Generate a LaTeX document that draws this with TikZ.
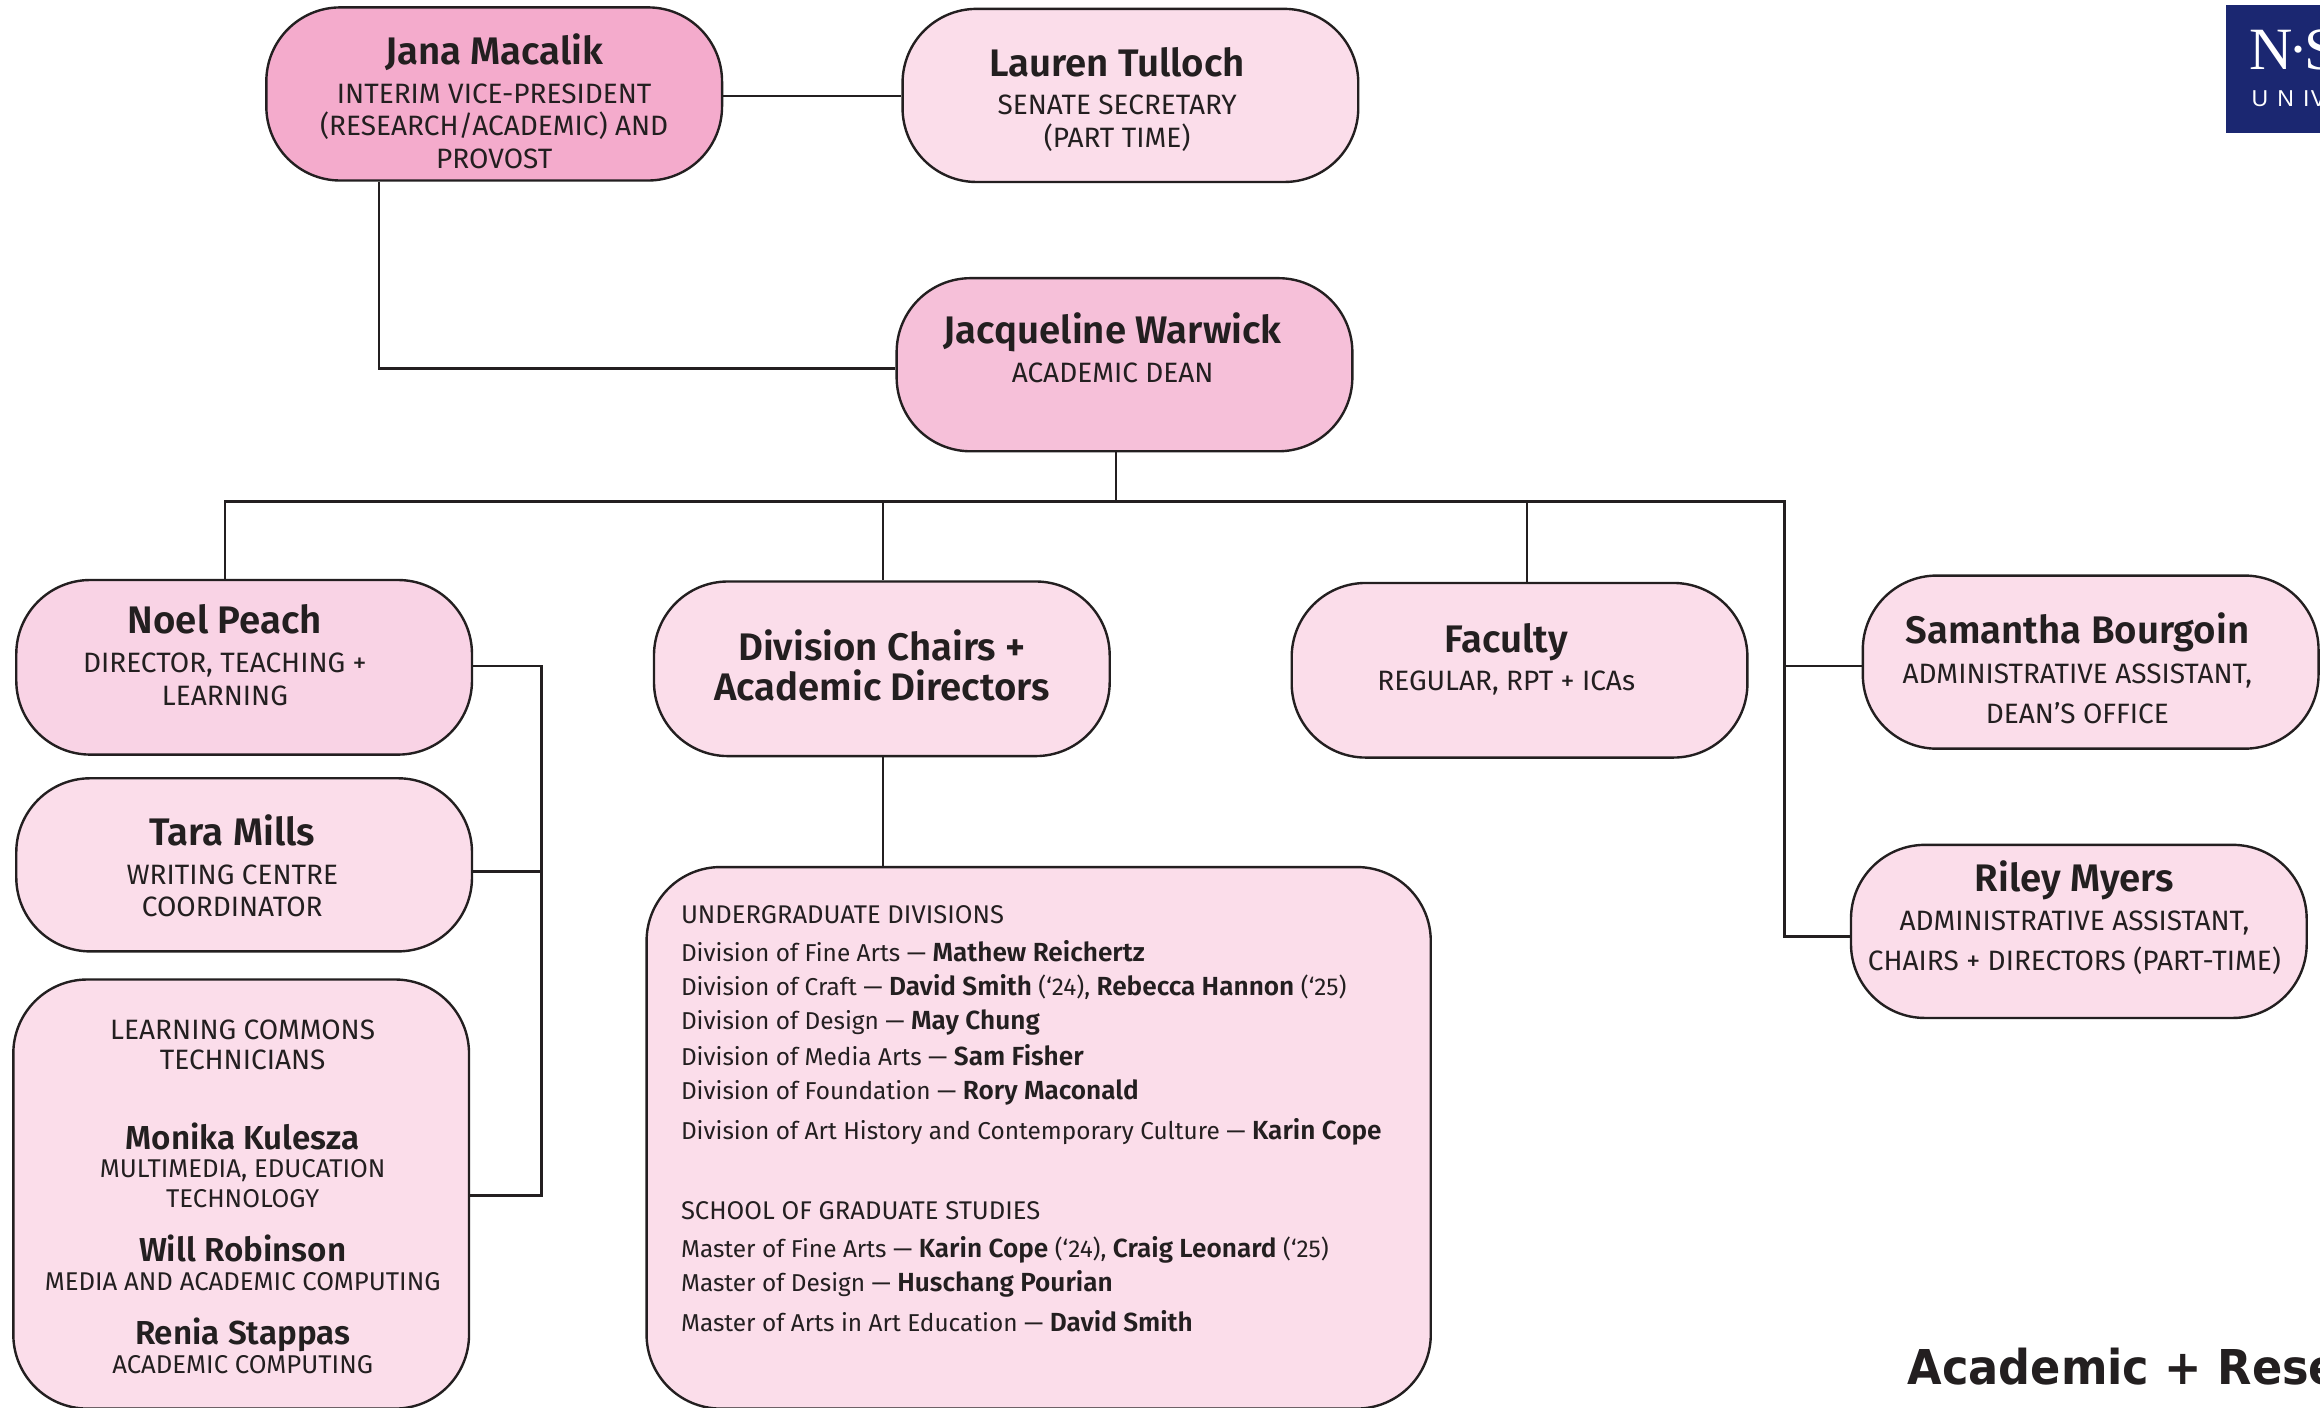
\documentclass[tikz,border=0pt]{standalone}
\usepackage{fontspec}
\setmainfont{Fira Sans}[BoldFont={Fira Sans SemiBold}]
\newfontfamily\titlefont[FakeStretch=0.93]{DejaVu Sans}
\newfontfamily\logoserif{Liberation Serif}
\newfontfamily\logosans[LetterSpace=40]{Liberation Sans}
\definecolor{ink}{HTML}{231F20}
\definecolor{pinkA}{HTML}{F4ABCC}
\definecolor{pinkB}{HTML}{F6C0D9}
\definecolor{pinkC}{HTML}{F9D3E5}
\definecolor{pinkD}{HTML}{FBDDEA}
\definecolor{navy}{HTML}{1B2771}
\newcommand{\bn}[1]{{\fontsize{13.1}{15}\selectfont\bfseries #1}}
\tikzset{
  orgbox/.style={draw=ink,line width=1.2pt,rounded corners=37pt,inner sep=0pt},
  wire/.style={draw=ink,line width=1.1pt},
  nm/.style={anchor=base,inner sep=0pt,yshift=-0.5pt,text=ink,font=\fontsize{19.2}{22}\selectfont\bfseries},
  nms/.style={anchor=base,inner sep=0pt,yshift=-0.5pt,text=ink,font=\fontsize{16.6}{19}\selectfont\bfseries},
  rl/.style={anchor=base,inner sep=0pt,yshift=-0.5pt,text=ink,font=\fontsize{14}{16}\selectfont},
  rls/.style={anchor=base,inner sep=0pt,text=ink,font=\fontsize{12.85}{15}\selectfont},
  ls/.style={anchor=base west,inner sep=0pt,text=ink,font=\fontsize{12.2}{15}\selectfont},
  lh/.style={anchor=base west,inner sep=0pt,text=ink,font=\fontsize{12.8}{15}\selectfont},
}
\newcommand{\orgbx}[6]{%
  \pgfmathsetmacro{\bw}{(#4-#2)*0.7398}%
  \pgfmathsetmacro{\bh}{(#5-#3)*0.7398}%
  \node[orgbox,fill=#6,minimum width=\bw pt,minimum height=\bh pt] (#1) at ({(#2+#4)/2},{(#3+#5)/2}) {};%
}
\begin{document}
\begin{tikzpicture}[x=0.7398pt,y=-0.7398pt]
\useasboundingbox (0,0) rectangle (1568,951.6);
\clip (0,0) rectangle (1568,951.6);
\fill[white] (0,0) rectangle (1568,951.6);

\orgbx{jana}{180}{5}{488}{122}{pinkA}
\orgbx{lauren}{610}{6}{918}{123}{pinkD}
\orgbx{jacq}{606}{188}{914}{305}{pinkB}
\orgbx{noel}{11}{392}{319}{510}{pinkC}
\orgbx{tara}{11}{526}{319}{643}{pinkD}
\orgbx{lc}{9}{662}{317}{952}{pinkD}
\orgbx{div}{442}{393}{750}{511}{pinkD}
\orgbx{fac}{873}{394}{1181}{512}{pinkD}
\orgbx{sam}{1259}{389}{1567}{506}{pinkD}
\orgbx{riley}{1251}{571}{1559}{688}{pinkD}
\orgbx{ug}{437}{586}{967}{952}{pinkD}

% junctions
\coordinate (jt) at (754,339);
\coordinate (bl) at (152,339);
\coordinate (bd) at (597,339);
\coordinate (bf) at (1032,339);
\coordinate (br) at (1206,339);
\coordinate (js) at (1206,450);
\coordinate (jr) at (1206,633);
\coordinate (jj) at (256,249);
\coordinate (lt) at (366,450);
\coordinate (lm) at (366,589);
\coordinate (lb) at (366,808);
\coordinate (jl) at (488,65);

\draw[wire] (jl) -- (jl -| lauren.west);
\draw[wire] (jj |- jana.south) -- (jj) -- (jj -| jacq.west);
\draw[wire] (jt |- jacq.south) -- (jt);
\draw[wire] (bl |- noel.north) -- (bl) -- (br) -- (jr) -- (jr -| riley.west);
\draw[wire] (bd) -- (bd |- div.north);
\draw[wire] (bf) -- (bf |- fac.north);
\draw[wire] (js) -- (js -| sam.west);
\draw[wire] (lt -| noel.east) -- (lt) -- (lb) -- (lb -| lc.east);
\draw[wire] (lm -| tara.east) -- (lm);
\draw[wire] (bd |- div.south) -- (bd |- ug.north);

% Jana
\node[nm] (t1) at (334,43) {Jana Macalik};
\node[rl] (t2) at (334,69) {INTERIM VICE-PRESIDENT};
\node[rl] (t3) at (334,91) {(RESEARCH/ACADEMIC) AND};
\node[rl] (t4) at (334,113) {PROVOST};
% Lauren
\node[nm] (t5) at (755,51) {Lauren Tulloch};
\node[rl] (t6) at (755,77) {SENATE SECRETARY};
\node[rl] (t7) at (755,99) {(PART TIME)};
% Jacqueline
\node[nm] (t8) at (752,231.5) {Jacqueline Warwick};
\node[rl] (t9) at (752,258) {ACADEMIC DEAN};
% Noel
\node[nm] (t10) at (152,427.5) {Noel Peach};
\node[rl] (t11) at (152,454) {DIRECTOR, TEACHING +};
\node[rl] (t12) at (152,476) {LEARNING};
% Tara
\node[nm] (t13) at (157,571) {Tara Mills};
\node[rl] (t14) at (157,597) {WRITING CENTRE};
\node[rl] (t15) at (157,619) {COORDINATOR};
% Learning commons
\node[rl] (t16) at (164,702) {LEARNING COMMONS};
\node[rl] (t17) at (164,722) {TECHNICIANS};
\node[nms] (t18) at (164,776.5) {Monika Kulesza};
\node[rls] (t19) at (164,796) {MULTIMEDIA, EDUCATION};
\node[rls] (t20) at (164,816) {TECHNOLOGY};
\node[nms] (t21) at (164,852) {Will Robinson};
\node[rls] (t22) at (164,872) {MEDIA AND ACADEMIC COMPUTING};
\node[nms] (t23) at (164,908) {Renia Stappas};
\node[rls] (t24) at (164,928) {ACADEMIC COMPUTING};
% Division chairs
\node[nm] (t25) at (596,446) {Division Chairs +};
\node[nm] (t26) at (596,473) {Academic Directors};
% Faculty
\node[nm] (t27) at (1018,440) {Faculty};
\node[rl] (t28) at (1018,466) {REGULAR, RPT + ICAs};
% Samantha
\node[nm] (t29) at (1404,434) {Samantha Bourgoin};
\node[rl] (t30) at (1404,461) {ADMINISTRATIVE ASSISTANT,};
\node[rl] (t31) at (1404,488) {DEAN’S OFFICE};
% Riley
\node[nm] (t32) at (1402,602) {Riley Myers};
\node[rl] (t33) at (1402,628) {ADMINISTRATIVE ASSISTANT,};
\node[rl] (t34) at (1402,655) {CHAIRS + DIRECTORS (PART-TIME)};
% List
\node[lh] (u1) at (460,624) {UNDERGRADUATE DIVISIONS};
\node[ls] (u2) at (460,650) {Division of Fine Arts — \bn{Mathew Reichertz}};
\node[ls] (u3) at (460,673) {Division of Craft — \bn{David Smith} (‘24), \bn{Rebecca Hannon} (‘25)};
\node[ls] (u4) at (460,696) {Division of Design — \bn{May Chung}};
\node[ls] (u5) at (460,720) {Division of Media Arts — \bn{Sam Fisher}};
\node[ls] (u6) at (460,743) {Division of Foundation — \bn{Rory Maconald}};
\node[ls] (u7) at (460,770) {Division of Art History and Contemporary Culture — \bn{Karin Cope}};
\node[lh] (u8) at (460,824) {SCHOOL OF GRADUATE STUDIES};
\node[ls] (u9) at (460,850) {Master of Fine Arts — \bn{Karin Cope} (‘24), \bn{Craig Leonard} (‘25)};
\node[ls] (u10) at (460,873) {Master of Design — \bn{Huschang Pourian}};
\node[ls] (u11) at (460,900) {Master of Arts in Art Education — \bn{David Smith}};

% Logo
\fill[navy] (1504.5,3.4) rectangle (1568,90);
\node[anchor=base west,inner sep=0pt,text=white,font=\logoserif\fontsize{30}{30}\selectfont] (lg1) at (1520,47.3) {N\kern-2pt·\kern-2pt S};
\node[anchor=base west,inner sep=0pt,text=white,font=\logosans\fontsize{11.5}{12}\selectfont] (lg2) at (1521.5,72) {UNI\kern0.6pt V};
% Title
\node[anchor=base west,inner sep=0pt,text=ink,font=\titlefont\fontsize{24}{26}\selectfont\bfseries] (ttl) at (1289,935.5) {Academic + Rese};
\end{tikzpicture}
\end{document}
